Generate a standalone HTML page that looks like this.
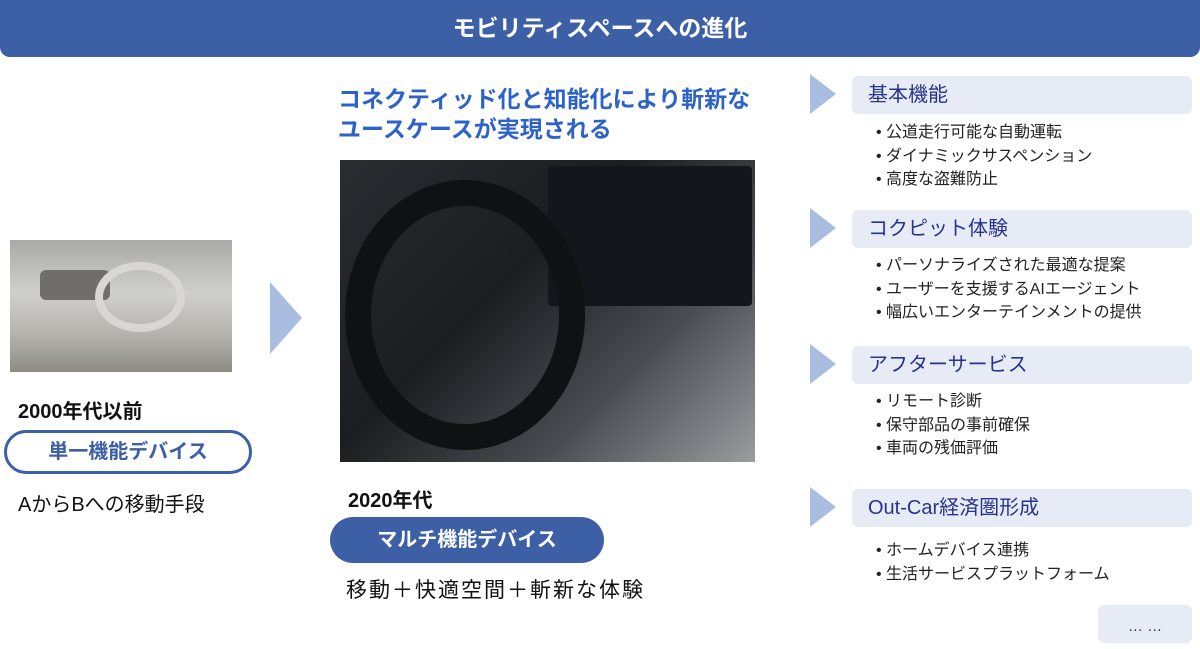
<!DOCTYPE html><html><head><meta charset="utf-8"><style>
body{margin:0;width:1200px;height:648px;background:#fff;position:relative;overflow:hidden;font-family:"Liberation Sans","Noto Sans CJK JP",sans-serif;}
.a{position:absolute;}
.hdr{left:0;top:0;width:1200px;height:57px;background:#3d5fa6;border-radius:0 0 10px 10px;color:#fff;font-size:23px;font-weight:bold;text-align:center;line-height:57px;}
.tri{width:0;height:0;border-top:20px solid transparent;border-bottom:20px solid transparent;border-left:26px solid #a9bde0;}
.box{left:852px;width:340px;height:38px;background:#e7ebf5;border-radius:6px;color:#27348b;font-size:20px;line-height:38px;padding-left:16px;box-sizing:border-box;}
.bl{left:876px;font-size:16px;line-height:23.5px;color:#222;}
</style></head><body>
<div class="a hdr">モビリティスペースへの進化</div>
<div class="a" style="left:10px;top:240px;width:222px;height:132px;background:linear-gradient(180deg,#a9a9a6 0%,#cfcfcc 40%,#b6b4af 70%,#8f8c86 100%);"></div>
<div class="a" style="left:40px;top:270px;width:70px;height:30px;background:#706e6a;border-radius:6px"></div>
<div class="a" style="left:95px;top:262px;width:90px;height:70px;border:8px solid #d8d7d3;border-radius:50%;box-sizing:border-box"></div>
<div class="a" style="left:18px;top:395px;font-size:20px;font-weight:bold;color:#111">2000年代以前</div>
<div class="a" style="left:4px;top:430px;width:248px;height:44px;border:3px solid #3d5fa6;border-radius:24px;box-sizing:border-box;color:#3d5fa6;font-size:20px;font-weight:bold;text-align:center;line-height:38px">単一機能デバイス</div>
<div class="a" style="left:18px;top:488px;font-size:20px;color:#111">AからBへの移動手段</div>
<div class="a" style="left:270px;top:282px;width:0;height:0;border-top:36px solid transparent;border-bottom:36px solid transparent;border-left:32px solid #a9bde0"></div>
<div class="a" style="left:338px;top:84px;font-size:23px;font-weight:bold;color:#2d63c8;line-height:30px">コネクティッド化と知能化により斬新な<br>ユースケースが実現される</div>
<div class="a" style="left:340px;top:160px;width:415px;height:302px;background:linear-gradient(135deg,#2a2c31 0%,#1c1d21 40%,#4a4c52 70%,#9a9ca0 100%);"></div>
<div class="a" style="left:548px;top:166px;width:204px;height:140px;background:#15161b;border-radius:4px"></div>
<div class="a" style="left:345px;top:180px;width:240px;height:270px;border:26px solid #101114;border-radius:50%;box-sizing:border-box"></div>
<div class="a" style="left:348px;top:484px;font-size:20px;font-weight:bold;color:#111">2020年代</div>
<div class="a" style="left:330px;top:517px;width:274px;height:46px;background:#3d5fa6;border-radius:24px;color:#fff;font-size:20px;font-weight:bold;text-align:center;line-height:46px">マルチ機能デバイス</div>
<div class="a" style="left:346px;top:574px;font-size:21px;letter-spacing:2px;color:#111">移動＋快適空間＋斬新な体験</div>

<div class="a tri" style="left:810px;top:74px"></div>
<div class="a box" style="top:76px">基本機能</div>
<div class="a bl" style="top:121px">• 公道走行可能な自動運転<br>• ダイナミックサスペンション<br>• 高度な盗難防止</div>
<div class="a tri" style="left:810px;top:208px"></div>
<div class="a box" style="top:210px">コクピット体験</div>
<div class="a bl" style="top:254px">• パーソナライズされた最適な提案<br>• ユーザーを支援するAIエージェント<br>• 幅広いエンターテインメントの提供</div>
<div class="a tri" style="left:810px;top:344px"></div>
<div class="a box" style="top:346px">アフターサービス</div>
<div class="a bl" style="top:390px">• リモート診断<br>• 保守部品の事前確保<br>• 車両の残価評価</div>
<div class="a tri" style="left:810px;top:487px"></div>
<div class="a box" style="top:489px">Out-Car経済圏形成</div>
<div class="a bl" style="top:539px">• ホームデバイス連携<br>• 生活サービスプラットフォーム</div>
<div class="a" style="left:1098px;top:605px;width:94px;height:38px;background:#e7ebf5;border-radius:6px;text-align:center;line-height:44px;color:#333;font-size:15px">… …</div>
</body></html>
